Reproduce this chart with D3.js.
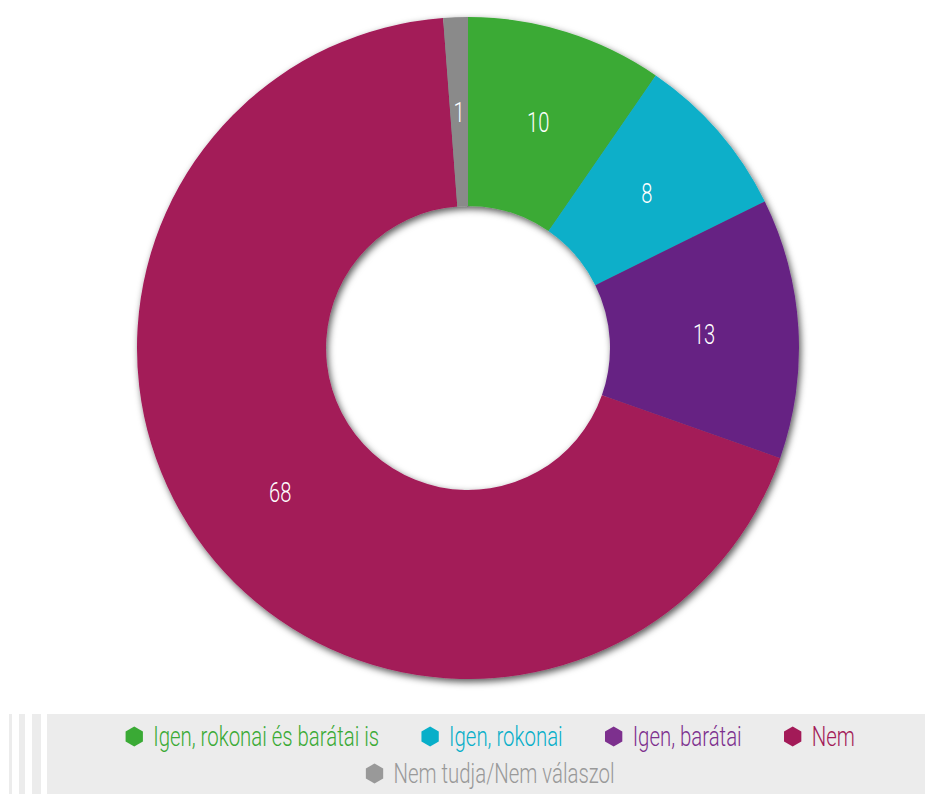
<!DOCTYPE html>
<html>
<head>
<meta charset="utf-8">
<script src="https://cdn.jsdelivr.net/npm/d3@7/dist/d3.min.js"></script>
<style>
  html, body { margin: 0; padding: 0; background: #ffffff; }
  svg { display: block; }
  text { font-family: "Roboto", "Liberation Sans", sans-serif; font-weight: 300; }
</style>
</head>
<body>
<svg id="chart" width="925" height="794"></svg>
<script>
const categories = ["Igen, rokonai és barátai is", "Igen, rokonai", "Igen, barátai", "Nem", "Nem tudja/Nem válaszol"];
const values = [9.6, 8.1, 12.7, 68.4, 1.2];
const sliceColors = ["#3aaa35", "#08afc9", "#662483", "#a31a58", "#8a8a8a"];
const legendColors = ["#3aaa35", "#08afc9", "#7d308e", "#a31a58", "#999999"];
const legendRows = [[0, 1, 2, 3], [4]];

const W = 925, H = 794;
const cx = 468, cy = 348, R = 331, r0 = 142;
const squeeze = 0.72;       // condensed look for slice labels
const legendSqueeze = 0.755; // condensed look for legend

const svg = d3.select("#chart");
const defs = svg.append("defs");
const f = defs.append("filter").attr("id", "shadow")
  .attr("x", "-10%").attr("y", "-10%").attr("width", "120%").attr("height", "120%");
f.append("feDropShadow").attr("dx", 2).attr("dy", 3).attr("stdDeviation", 3.5)
  .attr("flood-color", "#000").attr("flood-opacity", 0.65);

const data = categories.map((c, i) => ({ cat: c, value: values[i], color: sliceColors[i] }));
const pie = d3.pie().value(d => d.value).sort(null);
const arcs = pie(data);
const arc = d3.arc().innerRadius(r0).outerRadius(R);

const g = svg.append("g").attr("transform", `translate(${cx},${cy})`);
g.append("g").attr("filter", "url(#shadow)")
  .selectAll("path").data(arcs).join("path")
  .attr("d", arc).attr("fill", d => d.data.color);

g.selectAll("text.lbl").data(arcs).join("text")
  .attr("class", "lbl")
  .attr("transform", d => { const [x, y] = arc.centroid(d); return `translate(${x},${y}) scale(${squeeze},1)`; })
  .attr("text-anchor", "middle").attr("dy", "0.36em")
  .attr("fill", "#ffffff").attr("font-size", 28)
  .text(d => d3.format(".0f")(d.data.value));

// legend background
const lg = svg.append("g");
const stripes = [[9, 3], [19, 6], [32, 9]];
lg.selectAll("rect.stripe").data(stripes).join("rect")
  .attr("x", d => d[0]).attr("y", 714).attr("width", d => d[1]).attr("height", H - 714)
  .attr("fill", "#ececec");
lg.append("rect").attr("x", 47).attr("y", 714).attr("width", W - 47).attr("height", H - 714).attr("fill", "#ececec");

const hex = (rad) => d3.range(6).map(k => {
  const a = Math.PI / 3 * k - Math.PI / 2;
  return [rad * Math.cos(a), rad * Math.sin(a)];
});
const hexPath = "M" + hex(10).map(p => p.join(",")).join("L") + "Z";

const legendCenter = 490, gap = 42, markerGap = 19, rowBase = [746, 783];
legendRows.forEach((row, ri) => {
  const items = row.map(i => {
    const it = lg.append("g");
    it.append("path").attr("d", hexPath).attr("fill", legendColors[i]).attr("transform", `translate(0,${-9.5})`);
    const t = it.append("text").attr("transform", `translate(${markerGap},0) scale(${legendSqueeze},1)`)
      .attr("font-size", 27).attr("fill", legendColors[i]).text(categories[i]);
    const w = markerGap + t.node().getComputedTextLength() * legendSqueeze + 9;
    return { it, w };
  });
  const total = d3.sum(items, d => d.w) + gap * (items.length - 1);
  let x = legendCenter - total / 2 + 9;
  items.forEach(d => {
    d.it.attr("transform", `translate(${x},${rowBase[ri]})`);
    x += d.w + gap;
  });
});
</script>
</body>
</html>
